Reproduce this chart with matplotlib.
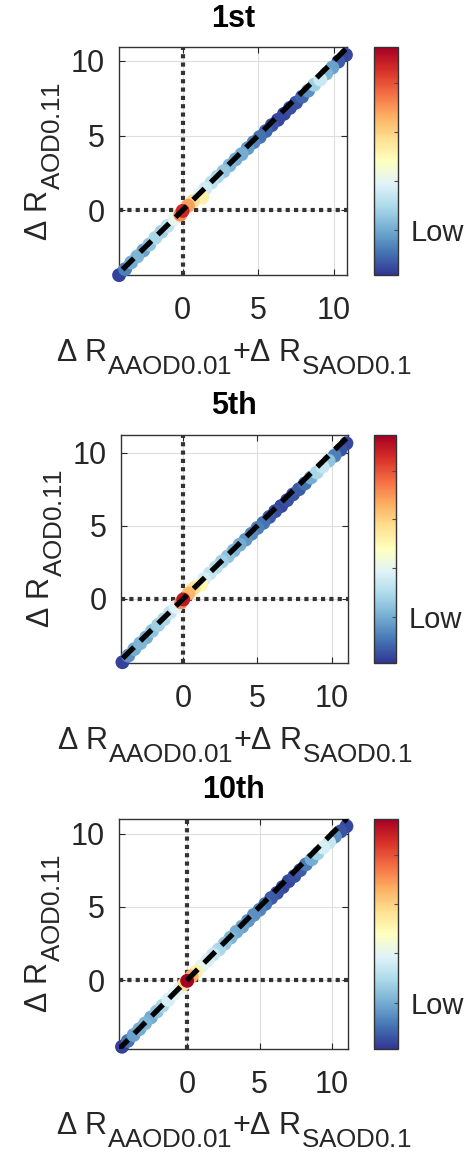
import matplotlib.pyplot as plt
import matplotlib._mathtext as mathtext_core
import numpy as np

plt.rcParams["font.family"] = ["Liberation Sans", "DejaVu Sans"]
plt.rcParams["mathtext.default"] = "regular"
# larger and lower subscripts, closer to the usual tex look of the labels
mathtext_core.SHRINK_FACTOR = 0.85
mathtext_core.FontConstantsBase.sub1 = 0.8

titles = ["1st", "5th", "10th"]

# sum of the two single-component changes (x), combined change (y), point density (d)
x1 = [-4.2, -3.8, -3.4, -3.0, -2.6, -2.2, -1.8, -1.4, -1.0, -0.55, -0.15, 0.0, 0.35, 0.7, 1.3,
      1.1, 1.5, 1.9, 2.3, 2.7, 3.1, 3.5, 3.9, 4.3, 4.7, 5.1, 5.5, 5.9, 6.3, 6.7, 7.1, 7.5, 7.9,
      8.3, 8.7, 9.1, 9.5, 9.9, 10.3, 10.8]
y1 = [-4.35, -3.95, -3.5, -3.1, -2.7, -2.3, -1.85, -1.45, -1.05, -0.6, -0.3, -0.05, 0.3, 0.6, 0.85,
      1.05, 1.45, 1.85, 2.25, 2.6, 3.0, 3.4, 3.75, 4.15, 4.55, 4.9, 5.3, 5.7, 6.05, 6.45, 6.85, 7.2, 7.6,
      8.0, 8.4, 8.75, 9.15, 9.55, 9.95, 10.4]
d1 = [0.02, 0.12, 0.2, 0.22, 0.18, 0.25, 0.3, 0.28, 0.33, 0.42, 0.75, 0.92, 0.72, 0.6, 0.55,
      0.4, 0.37, 0.33, 0.3, 0.26, 0.22, 0.2, 0.2, 0.17, 0.13, 0.1, 0.08, 0.05, 0.03, 0.03, 0.04, 0.05, 0.08,
      0.15, 0.28, 0.36, 0.22, 0.18, 0.06, 0.03]

x2 = [-4.1, -3.7, -3.3, -2.9, -2.5, -2.1, -1.7, -1.3, -0.9, -0.5, -0.15, 0.0, 0.35, 0.7, 1.2,
      1.0, 1.4, 1.8, 2.2, 2.6, 3.0, 3.4, 3.8, 4.2, 4.6, 5.0, 5.4, 5.8, 6.2, 6.6, 7.0, 7.4, 7.8,
      8.2, 8.6, 9.0, 9.4, 9.8, 10.2, 10.6, 11.0]
y2 = [-4.35, -3.9, -3.45, -3.05, -2.65, -2.2, -1.8, -1.4, -0.95, -0.55, -0.25, -0.05, 0.35, 0.7, 0.95,
      0.95, 1.35, 1.75, 2.15, 2.55, 2.9, 3.3, 3.7, 4.05, 4.45, 4.85, 5.2, 5.6, 6.0, 6.35, 6.75, 7.15, 7.5,
      7.9, 8.3, 8.65, 9.05, 9.45, 9.8, 10.2, 10.65]
d2 = [0.02, 0.15, 0.2, 0.22, 0.2, 0.25, 0.28, 0.3, 0.35, 0.4, 0.75, 0.95, 0.68, 0.6, 0.52,
      0.42, 0.38, 0.35, 0.32, 0.28, 0.25, 0.22, 0.2, 0.16, 0.14, 0.12, 0.1, 0.06, 0.04, 0.03, 0.04, 0.05, 0.06,
      0.1, 0.2, 0.3, 0.35, 0.25, 0.12, 0.05, 0.03]

x3 = [-4.5, -4.1, -3.7, -3.3, -2.9, -2.5, -2.1, -1.7, -1.3, -0.9, -0.5, -0.2, 0.0, 0.3, 0.6,
      1.0, 1.4, 1.8, 2.2, 2.6, 3.0, 3.4, 3.8, 4.2, 4.6, 5.0, 5.4, 5.8, 6.2, 6.6, 7.0, 7.4, 7.8,
      8.2, 8.6, 9.0, 9.4, 9.8, 10.2, 10.6, 11.0]
y3 = [-4.55, -4.15, -3.75, -3.35, -2.95, -2.55, -2.15, -1.75, -1.35, -0.95, -0.55, -0.25, -0.05, 0.25, 0.55,
      0.95, 1.35, 1.75, 2.1, 2.5, 2.9, 3.3, 3.65, 4.05, 4.45, 4.8, 5.2, 5.6, 5.95, 6.35, 6.75, 7.1, 7.5,
      7.9, 8.25, 8.65, 9.05, 9.4, 9.8, 10.15, 10.5]
d3 = [0.02, 0.1, 0.18, 0.2, 0.22, 0.2, 0.25, 0.3, 0.38, 0.4, 0.42, 0.6, 1.0, 0.7, 0.55,
      0.42, 0.38, 0.35, 0.3, 0.26, 0.22, 0.2, 0.18, 0.16, 0.15, 0.13, 0.1, 0.06, 0.04, 0.03, 0.03, 0.04, 0.06,
      0.12, 0.2, 0.28, 0.38, 0.35, 0.15, 0.05, 0.03]

xlims = [(-4.2, 10.9), (-4.2, 11.1), (-4.7, 11.1)]
ylims = [(-4.35, 10.9), (-4.4, 11.2), (-4.7, 11.0)]
ticks = [0, 5, 10]
cb_ticks = [0.2, 0.415, 0.63, 0.845]
cb_labels = ["Low", "", "", ""]

xlabel = "Δ R$_{AAOD0.01}$+Δ R$_{SAOD0.1}$"
ylabel = "Δ R$_{AOD0.11}$"

ax_pos = [[0.255, 0.762, 0.489, 0.197],
          [0.259, 0.4265, 0.486, 0.197],
          [0.255, 0.0926, 0.490, 0.199]]
cb_pos = [[0.801, 0.762, 0.052, 0.197],
          [0.801, 0.4265, 0.048, 0.197],
          [0.801, 0.0926, 0.052, 0.199]]

TXT = "0.15"


def panel(fig, i, x, y, d):
    """Draws one density scatter panel with its colorbar."""
    ax = fig.add_axes(ax_pos[i])
    ax.set_xlim(xlims[i])
    ax.set_ylim(ylims[i])
    ax.grid(True, color="0.87", lw=0.8)
    ax.set_axisbelow(True)

    ax.axhline(0, color="0.2", lw=3.0, ls=(0, (1, 1.0)), zorder=2)
    ax.axvline(0, color="0.2", lw=3.0, ls=(0, (1, 1.0)), zorder=2)

    x = np.array(x)
    y = np.array(y)
    d = np.array(d)
    idx = np.argsort(d)
    # densest points on top, markers may spill over the frame
    sc = ax.scatter(x[idx], y[idx], c=d[idx], cmap="RdYlBu_r", vmin=0, vmax=1,
                    s=100, edgecolors="none", zorder=3, clip_on=False)
    ax.plot([-20, 20], [-20, 20], color="black", lw=3.8, ls=(0, (3.0, 1.7)), zorder=4)

    ax.set_xticks(ticks)
    ax.set_yticks(ticks)
    ax.tick_params(direction="in", length=4, width=0.8, color=TXT, labelcolor=TXT,
                   labelsize=22, top=True, right=True)
    ax.tick_params(axis="x", pad=15)
    ax.tick_params(axis="y", pad=10)
    for s in ax.spines.values():
        s.set_color("0.2")
        s.set_linewidth(1.0)

    ax.set_title(titles[i], fontsize=22, fontweight="bold", pad=15)
    ax.set_xlabel(xlabel, fontsize=22, color=TXT, labelpad=8)
    ax.set_ylabel(ylabel, fontsize=22, color=TXT, labelpad=6)

    cax = fig.add_axes(cb_pos[i])
    cb = fig.colorbar(sc, cax=cax)
    cb.set_ticks(cb_ticks)
    cb.set_ticklabels(cb_labels)
    cb.ax.tick_params(direction="in", length=3, width=0.8, color="0.3",
                      labelcolor=TXT, labelsize=21, pad=9)
    cb.outline.set_edgecolor("0.2")
    cb.outline.set_linewidth(1.0)


fig = plt.figure(figsize=(4.67, 11.56), dpi=100)
panel(fig, 0, x1, y1, d1)
panel(fig, 1, x2, y2, d2)
panel(fig, 2, x3, y3, d3)
fig.savefig("out.png", dpi=100)
